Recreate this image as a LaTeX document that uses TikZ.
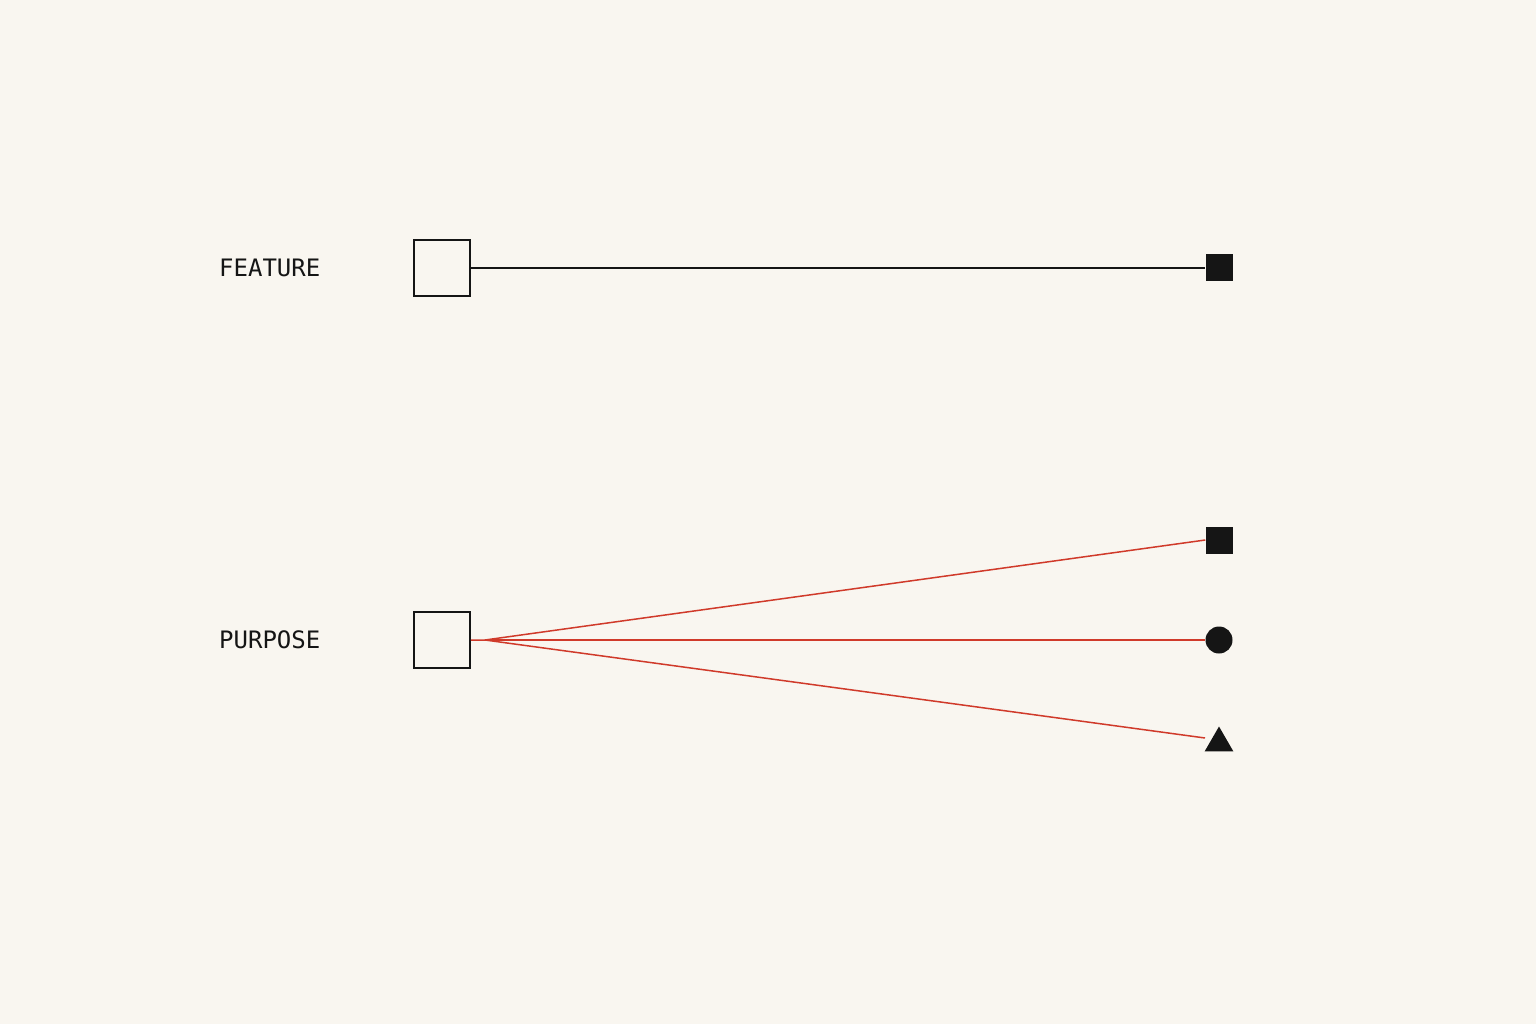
\documentclass[tikz,border=0pt]{standalone}
\usepackage{fontspec}
\setmainfont{DejaVu Sans Mono}
\usetikzlibrary{shapes.geometric}
\definecolor{bg}{HTML}{F9F6F0}
\definecolor{ink}{HTML}{151515}
\definecolor{redline}{HTML}{D03A2A}
\begin{document}
\begin{tikzpicture}[x=1pt,y=-1pt,
  lbl/.style={anchor=west,inner sep=0pt,text=ink,font=\fontsize{24}{26}\selectfont},
  openbox/.style={draw=ink,line width=1.6pt,minimum size=56pt,inner sep=0pt,fill=bg},
  fsq/.style={fill=ink,minimum size=27pt,inner sep=0pt},
  fcirc/.style={circle,fill=ink,minimum size=27pt,inner sep=0pt},
  ftri/.style={regular polygon,regular polygon sides=3,fill=ink,minimum size=33pt,inner sep=0pt},
  blackline/.style={draw=ink,line width=1.5pt},
  redl/.style={draw=redline,line width=1.5pt}]
\fill[bg] (0,0) rectangle (1536,1024);
\useasboundingbox (0,0) rectangle (1536,1024);
\node[lbl] (featlbl) at (219,268) {FEATURE};
\node[lbl] (purplbl) at (219,640) {PURPOSE};
\node[openbox] (fbox) at (442,268) {};
\node[openbox] (pbox) at (442,640) {};
\node[fsq] (t1) at (1219,268) {};
\node[fsq] (t2) at (1219,540) {};
\node[fcirc] (t3) at (1219,640) {};
\node[ftri] (t4) at (1219,743) {};
\coordinate (fork) at (485,640);
\coordinate (e4) at (1205,738);
\draw[blackline] (fbox.east) -- (t1.west);
\draw[redl] (pbox.east) -- (fork) -- (t2.west);
\draw[redl] (fork) -- (t3.west);
\draw[redl] (fork) -- (e4);
\end{tikzpicture}
\end{document}
